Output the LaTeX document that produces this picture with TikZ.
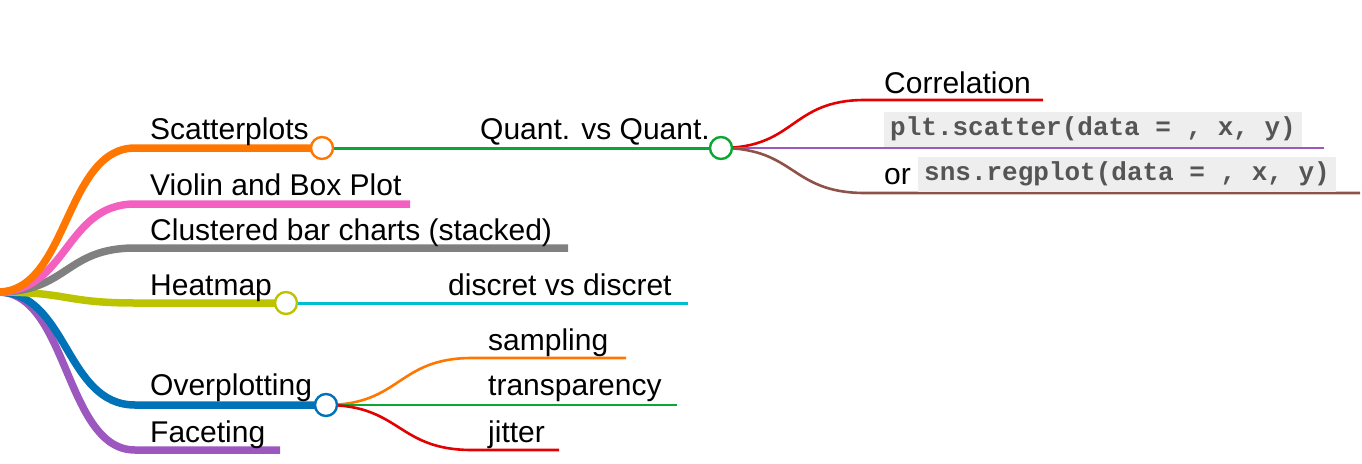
\documentclass[tikz,border=0pt]{standalone}
\usepackage{fontspec}
\setmainfont{Liberation Sans}
\newfontfamily\codefont{Liberation Mono}
\usetikzlibrary{positioning}

\definecolor{cOrange}{RGB}{255,119,0}
\definecolor{cPink}{RGB}{243,96,192}
\definecolor{cGray}{RGB}{128,128,128}
\definecolor{cOlive}{RGB}{188,196,0}
\definecolor{cBlue}{RGB}{0,114,183}
\definecolor{cPurple}{RGB}{156,88,190}
\definecolor{cGreen}{RGB}{10,168,50}
\definecolor{cRed}{RGB}{226,0,0}
\definecolor{cBrown}{RGB}{142,82,72}
\definecolor{cCyan}{RGB}{0,190,210}
\definecolor{codebg}{RGB}{238,238,238}
\definecolor{codetxt}{RGB}{85,85,85}

\tikzset{
  lbl/.style={anchor=base west, inner sep=0pt, font=\fontsize{30}{30}\selectfont},
  knob/.style={circle, draw=#1, fill=white, line width=2.4pt, minimum size=22pt, inner sep=0pt},
  trunk/.style={line width=7.5pt, draw=#1},
  twig/.style={line width=3pt, draw=#1},
  leaf/.style={line width=2.6pt, draw=#1},
  codebox/.style={anchor=south west, fill=codebg, text=codetxt, inner xsep=6pt, inner ysep=0pt,
    text height=24pt, text depth=11pt, font=\codefont\bfseries\fontsize{26}{26}\selectfont},
}

\begin{document}
\begin{tikzpicture}[x=1pt,y=-1pt]
\useasboundingbox (0,0) rectangle (1362,463);
\coordinate (root) at (-2,292);

% level one
\coordinate (s1) at (135,148);  \coordinate (scatK) at (322,148);
\coordinate (s2) at (135,204);  \coordinate (violE) at (410,204);
\coordinate (s3) at (135,248);  \coordinate (clusE) at (568,248);
\coordinate (s4) at (135,303);  \coordinate (heatK) at (286,303);
\coordinate (s5) at (135,405);  \coordinate (overK) at (326,405);
\coordinate (s6) at (135,450);  \coordinate (facE) at (280,450);

% level two and three
\coordinate (quantK) at (721,148);
\coordinate (corrS) at (865,100); \coordinate (corrE) at (1043,100);
\coordinate (pltE) at (1324,148);
\coordinate (snsS) at (865,193);  \coordinate (snsE) at (1360,193);
\coordinate (discE) at (688,303);
\coordinate (sampS) at (472,358); \coordinate (sampE) at (626,358);
\coordinate (tranE) at (677,405);
\coordinate (jitS) at (472,450);  \coordinate (jitE) at (559,450);

\draw[trunk=cPurple] (root) .. controls +(70,0) and +(-70,0) .. (s6) -- (facE);
\draw[trunk=cBlue] (root) .. controls +(70,0) and +(-70,0) .. (s5) -- (overK);
\draw[trunk=cOlive] (root) .. controls +(70,0) and +(-70,0) .. (s4) -- (heatK);
\draw[trunk=cGray] (root) .. controls +(70,0) and +(-70,0) .. (s3) -- (clusE);
\draw[trunk=cPink] (root) .. controls +(70,0) and +(-70,0) .. (s2) -- (violE);
\draw[trunk=cOrange] (root) .. controls +(70,0) and +(-70,0) .. (s1) -- (scatK);

\draw[twig=cGreen] (scatK) -- (quantK);
\draw[twig=cCyan] (heatK) -- (discE);

\draw[leaf=cRed] (quantK) .. controls +(75,0) and +(-75,0) .. (corrS) -- (corrE);
\draw[leaf=cPurple] (quantK) -- (pltE);
\draw[leaf=cBrown] (quantK) .. controls +(75,0) and +(-75,0) .. (snsS) -- (snsE);

\draw[leaf=cOrange] (overK) .. controls +(75,0) and +(-75,0) .. (sampS) -- (sampE);
\draw[leaf=cGreen] (overK) -- (tranE);
\draw[leaf=cRed] (overK) .. controls +(75,0) and +(-75,0) .. (jitS) -- (jitE);

% circles
\node[knob=cOrange] (scat) at (scatK) {};
\node[knob=cGreen] (quant) at (quantK) {};
\node[knob=cOlive] (heat) at (heatK) {};
\node[knob=cBlue] (over) at (overK) {};

% labels
\node[lbl] (tScat) at (150,139) {Scatterplots};
\node[lbl] (tViol) at (150,195) {Violin and Box Plot};
\node[lbl] (tClus) at (150,240) {Clustered bar charts (stacked)};
\node[lbl] (tHeat) at (150,295) {Heatmap};
\node[lbl] (tOver) at (150,395) {Overplotting};
\node[lbl] (tFac) at (150,442) {Faceting};
\node[lbl] (tQuant) at (480,139) {Quant. vs Quant.};
\node[lbl] (tCorr) at (884,93) {Correlation};
\node[lbl] (tOr) at (884,184) {or};
\node[lbl] (tDisc) at (448,295) {discret vs discret};
\node[lbl] (tSamp) at (488,350) {sampling};
\node[lbl] (tTran) at (488,395) {transparency};
\node[lbl] (tJit) at (488,442) {jitter};

\node[codebox] (cPlt) at (884,147) {plt.scatter(data = , x, y)};
\node[codebox] (cSns) at (918,192) {sns.regplot(data = , x, y)};
\end{tikzpicture}
\end{document}
